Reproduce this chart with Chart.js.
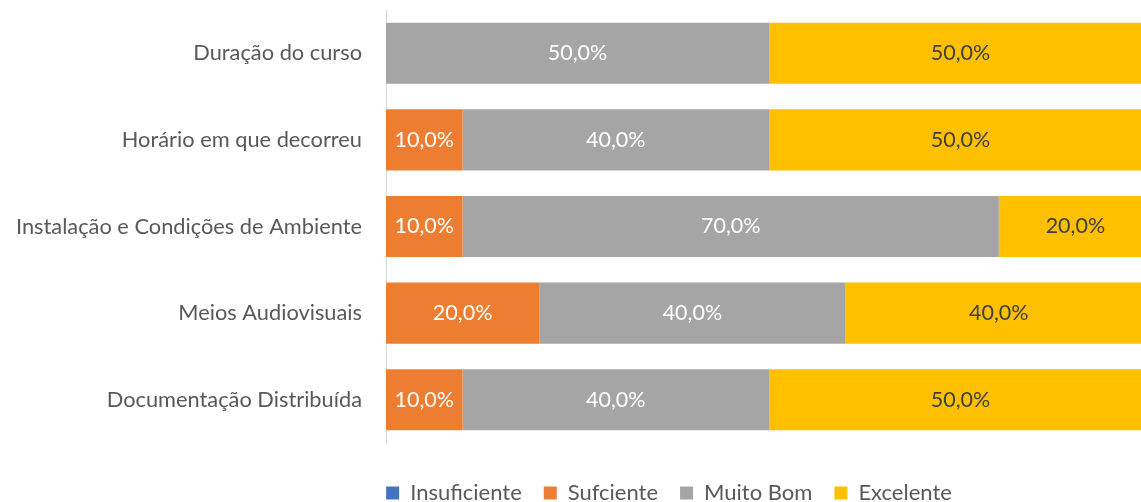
<!DOCTYPE html>
<html>
<head>
<meta charset="utf-8">
<script src="https://cdn.jsdelivr.net/npm/chart.js@4"></script>
<style>
  html, body { margin: 0; padding: 0; background: #fff; overflow: hidden; }
  #wrap { position: relative; width: 1160px; height: 514px; }
</style>
</head>
<body>
<div id="wrap"><canvas id="chart"></canvas></div>
<script>
const categories = ['Duração do curso', 'Horário em que decorreu', 'Instalação e Condições de Ambiente', 'Meios Audiovisuais', 'Documentação Distribuída'];
const seriesNames = ['Insuficiente', 'Sufciente', 'Muito Bom', 'Excelente'];
const insuficiente = [0, 0, 0, 0, 0];
const sufciente = [0, 10, 10, 20, 10];
const muitoBom = [50, 40, 70, 40, 40];
const excelente = [50, 50, 20, 40, 50];

const colors = ['#4472C4', '#ED7D31', '#A5A5A5', '#FFC000'];
const labelColors = ['#FFFFFF', '#FFFFFF', '#FFFFFF', '#404040'];
const FONT = 'Lato';

// draws the value in the middle of each segment
const valueLabels = {
  id: 'valueLabels',
  afterDatasetsDraw(chart) {
    const ctx = chart.ctx;
    ctx.save();
    ctx.font = '21.5px ' + FONT;
    ctx.textAlign = 'center';
    ctx.textBaseline = 'middle';
    chart.data.datasets.forEach((ds, i) => {
      const meta = chart.getDatasetMeta(i);
      meta.data.forEach((bar, j) => {
        const v = ds.data[j];
        if (!v) return;
        ctx.fillStyle = labelColors[i];
        ctx.fillText(v.toFixed(1).replace('.', ',') + '%', (bar.x + bar.base) / 2, bar.y);
      });
    });
    ctx.restore();
  }
};

// legend is centred a bit left of the canvas middle in the original
const legendShift = {
  id: 'legendShift',
  afterLayout(chart) {
    const lg = chart.legend;
    if (!lg) return;
    lg.left = 186;
    lg.right = 1152;
    lg.width = lg.right - lg.left;
  }
};

const seriesData = [insuficiente, sufciente, muitoBom, excelente];

new Chart(document.getElementById('chart'), {
  type: 'bar',
  data: {
    labels: categories,
    datasets: seriesNames.map((name, i) => ({
      label: name,
      data: seriesData[i],
      backgroundColor: colors[i],
      borderWidth: 0,
      categoryPercentage: 1,
      barPercentage: 0.705
    }))
  },
  options: {
    indexAxis: 'y',
    responsive: true,
    maintainAspectRatio: false,
    animation: false,
    layout: { padding: { left: 0, right: 8, top: 10, bottom: 0 } },
    scales: {
      x: {
        stacked: true,
        min: 0,
        max: 100,
        ticks: { display: false },
        grid: { display: false, drawTicks: false },
        border: { display: false },
        afterFit(s) { s.height = 17; }
      },
      y: {
        stacked: true,
        grid: { display: true, drawOnChartArea: false, drawTicks: true, tickLength: 24, color: 'rgba(0,0,0,0)' },
        border: { color: '#D9D9D9', width: 1 },
        ticks: { color: '#595959', font: { family: FONT, size: 21.8, lineHeight: 0.9 }, padding: 0 },
        afterFit(s) { s.width = 386; }
      }
    },
    plugins: {
      legend: {
        position: 'bottom',
        labels: {
          boxWidth: 13,
          boxHeight: 13,
          padding: 22,
          color: '#595959',
          font: { family: FONT, size: 22 }
        }
      },
      tooltip: { enabled: false }
    }
  },
  plugins: [valueLabels, legendShift]
});
</script>
</body>
</html>
